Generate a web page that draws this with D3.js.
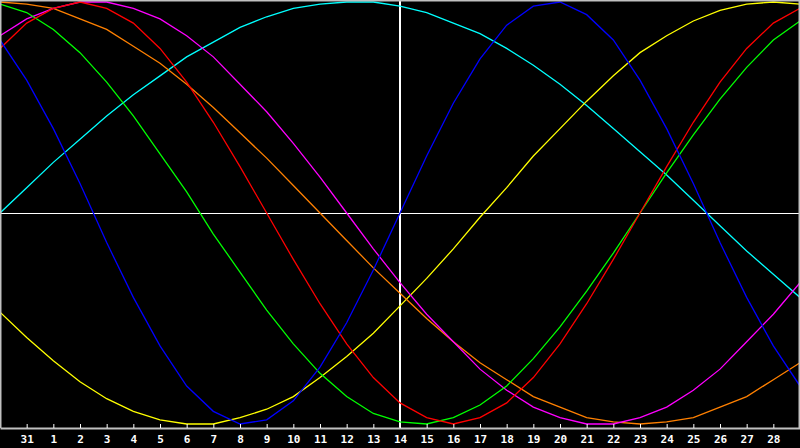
<!DOCTYPE html>
<html>
<head>
<meta charset="utf-8">
<script src="https://cdn.jsdelivr.net/npm/d3@7"></script>
<style>
  html, body { margin: 0; padding: 0; background: #000; }
  svg { display: block; }
  .axis text { fill: #fff; font-family: 'DejaVu Sans Mono', monospace; font-weight: bold; font-size: 11px; }
  .axis line { stroke: #fff; }
  .axis path { stroke: #c0c0c0; stroke-width: 2; }
</style>
</head>
<body>
<svg id="chart"></svg>
<script>
// day labels under the ticks (points 1..29, the first and last points have no label)
const dayLabels = ['31', '1', '2', '3', '4', '5', '6', '7', '8', '9', '10', '11', '12', '13', '14',
  '15', '16', '17', '18', '19', '20', '21', '22', '23', '24', '25', '26', '27', '28']

// one value per day point (0..30), range -1..1
const blueValues = [0.82, 0.63, 0.40, 0.14, -0.14, -0.40, -0.63, -0.82, -0.94, -1.00, -0.98, -0.89, -0.73, -0.52, -0.27, 0.00,
  0.27, 0.52, 0.73, 0.89, 0.98, 1.00, 0.94, 0.82, 0.63, 0.40, 0.14, -0.14, -0.40, -0.63, -0.82]
const redValues = [0.78, 0.90, 0.97, 1.00, 0.97, 0.90, 0.78, 0.62, 0.43, 0.22, 0.00, -0.22, -0.43, -0.62, -0.78, -0.90,
  -0.97, -1.00, -0.97, -0.90, -0.78, -0.62, -0.43, -0.22, 0.00, 0.22, 0.43, 0.62, 0.78, 0.90, 0.97]
const greenValues = [0.99, 0.95, 0.87, 0.76, 0.62, 0.46, 0.28, 0.10, -0.10, -0.28, -0.46, -0.62, -0.76, -0.87, -0.95, -0.99,
  -1.00, -0.97, -0.91, -0.82, -0.69, -0.54, -0.37, -0.19, 0.00, 0.19, 0.37, 0.54, 0.69, 0.82, 0.91]
const cyanValues = [0.00, 0.12, 0.24, 0.35, 0.46, 0.56, 0.65, 0.74, 0.81, 0.88, 0.93, 0.97, 0.99, 1.00, 1.00, 0.98,
  0.95, 0.90, 0.85, 0.78, 0.70, 0.61, 0.51, 0.40, 0.29, 0.18, 0.06, -0.06, -0.18, -0.29, -0.40]
const magentaValues = [0.84, 0.92, 0.97, 1.00, 1.00, 0.97, 0.92, 0.84, 0.74, 0.61, 0.48, 0.33, 0.17, 0.00, -0.17, -0.33,
  -0.48, -0.61, -0.74, -0.84, -0.92, -0.97, -1.00, -1.00, -0.97, -0.92, -0.84, -0.74, -0.61, -0.48, -0.33]
const orangeValues = [1.00, 0.99, 0.97, 0.92, 0.87, 0.79, 0.71, 0.61, 0.50, 0.38, 0.26, 0.13, 0.00, -0.13, -0.26, -0.38,
  -0.50, -0.61, -0.71, -0.79, -0.87, -0.92, -0.97, -0.99, -1.00, -0.99, -0.97, -0.92, -0.87, -0.79, -0.71]
const yellowValues = [-0.47, -0.59, -0.70, -0.80, -0.88, -0.94, -0.98, -1.00, -1.00, -0.97, -0.93, -0.87, -0.78, -0.68, -0.57, -0.44,
  -0.31, -0.17, -0.02, 0.12, 0.27, 0.40, 0.53, 0.65, 0.76, 0.84, 0.91, 0.96, 0.99, 1.00, 0.99]

const series = [
  { color: '#00ffff', values: cyanValues },
  { color: '#ffff00', values: yellowValues },
  { color: '#ff8000', values: orangeValues },
  { color: '#ff00ff', values: magentaValues },
  { color: '#00ff00', values: greenValues },
  { color: '#ff0000', values: redValues },
  { color: '#0000ff', values: blueValues }
]

const width = 800
const height = 448
const axisY = 428

const svg = d3.select('#chart')
  .attr('width', width)
  .attr('height', height)

svg.append('rect')
  .attr('width', width)
  .attr('height', height)
  .attr('fill', '#000')

const xScale = d3.scaleLinear().domain([0, 30]).range([0, width])
const yScale = d3.scaleLinear().domain([-1, 1]).range([424, 2])

// center cross
svg.append('line')
  .attr('x1', 0).attr('x2', width)
  .attr('y1', yScale(0) + 0.5).attr('y2', yScale(0) + 0.5)
  .attr('stroke', '#fff')
  .attr('stroke-width', 1.2)

svg.append('line')
  .attr('x1', xScale(15)).attr('x2', xScale(15))
  .attr('y1', 0).attr('y2', axisY)
  .attr('stroke', '#fff')
  .attr('stroke-width', 2)

const line = d3.line()
  .x((d, i) => xScale(i))
  .y(d => yScale(d))

svg.append('g')
  .selectAll('path')
  .data(series)
  .enter()
  .append('path')
  .attr('d', d => line(d.values))
  .attr('fill', 'none')
  .attr('stroke', d => d.color)
  .attr('stroke-width', 1.3)

// gray frame left, top, right
svg.append('path')
  .attr('d', 'M0.5,' + axisY + 'V0.5H' + (width - 0.5) + 'V' + axisY)
  .attr('fill', 'none')
  .attr('stroke', '#c0c0c0')
  .attr('stroke-width', 2)

const tickDays = d3.range(1, 30)
svg.append('g')
  .attr('class', 'axis')
  .attr('transform', 'translate(0,' + axisY + ')')
  .call(d3.axisBottom(xScale)
    .tickValues(tickDays)
    .tickFormat((d, i) => dayLabels[i])
    .tickSizeInner(-4)
    .tickSizeOuter(0)
    .tickPadding(7))
</script>
</body>
</html>
